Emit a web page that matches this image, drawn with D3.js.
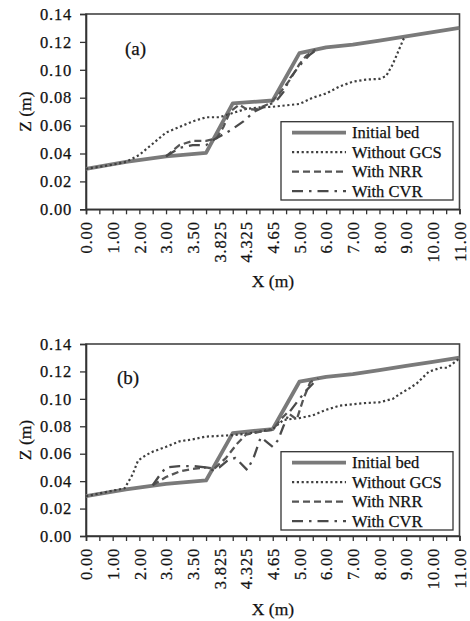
<!DOCTYPE html>
<html><head><meta charset="utf-8">
<script src="https://cdn.jsdelivr.net/npm/d3@7"></script>
<style>
body{margin:0;background:#fff}
svg{display:block}
text{font-family:"Liberation Serif","Times New Roman",serif;fill:#111;stroke:#111;stroke-width:0.25px}
</style>
</head><body>
<svg id="chart" width="470" height="621"></svg>
<script>
// Category axis labels (label i sits at position i; minor ticks at half positions)
const xTickLabels = ["0.00","1.00","2.00","3.00","3.50","3.825","4.325","4.65","5.00","6.00","7.00","8.00","9.00","10.00","11.00"];
const zTicks = [0,0.02,0.04,0.06,0.08,0.10,0.12,0.14];
const seriesNames = ["Initial bed","Without GCS","With NRR","With CVR"];

// Panel (a)
const aBedPos = [0,1.5,3,4.5,5.5,7,8,9,10,11,12,13,14];
const aBedZ   = [0.029,0.034,0.038,0.0405,0.076,0.078,0.112,0.116,0.118,0.121,0.124,0.127,0.130];
const aGcsPos = [0,1,1.5,2,2.5,3,3.5,4,4.5,5,5.5,6,6.5,7,7.5,8,8.5,9,9.5,10,10.5,11,11.25,11.5,11.7,11.9,12];
const aGcsZ   = [0.029,0.032,0.034,0.039,0.047,0.055,0.059,0.063,0.066,0.066,0.069,0.072,0.073,0.0735,0.0745,0.0755,0.080,0.083,0.088,0.0915,0.093,0.0935,0.0955,0.104,0.113,0.122,0.1238];
const aNrrPos = [3,3.5,4,4.5,4.9,5.15,5.4,5.75,6,6.35,6.9,7.25,7.65,8,8.25,8.6];
const aNrrZ   = [0.038,0.046,0.049,0.049,0.051,0.059,0.070,0.075,0.072,0.0715,0.076,0.083,0.093,0.104,0.110,0.1145];
const aCvrPos = [3,3.5,4,4.5,4.8,5.45,5.9,6.3,6.75,7.1,7.4,7.65,8,8.4,8.7];
const aCvrZ   = [0.038,0.044,0.046,0.046,0.050,0.057,0.063,0.070,0.074,0.077,0.084,0.094,0.103,0.111,0.115];

// Panel (b)
const bBedPos = [0,1.5,3,4.5,5.5,7,8,9,10,11,12,13,14];
const bBedZ   = [0.029,0.034,0.038,0.0405,0.075,0.078,0.1125,0.116,0.118,0.121,0.124,0.127,0.130];
const bGcsPos = [0,1,1.45,1.75,1.95,2.25,2.5,3,3.5,4,4.5,5,5.5,6,6.5,7,7.4,8,8.5,9,9.5,10,10.5,11,11.5,11.8,12.15,12.4,12.85,13.3,13.55,14];
const bGcsZ   = [0.029,0.033,0.0348,0.045,0.055,0.059,0.0615,0.065,0.069,0.0705,0.0725,0.073,0.0736,0.0745,0.076,0.078,0.0846,0.086,0.088,0.092,0.095,0.096,0.097,0.0975,0.100,0.104,0.108,0.1113,0.1198,0.1227,0.1227,0.1295];
const bNrrPos = [2.5,3,3.5,4,4.5,4.8,5.25,5.65,6,6.5,7,7.3,7.55,7.9,8.15,8.4,8.6];
const bNrrZ   = [0.037,0.043,0.047,0.049,0.050,0.049,0.057,0.067,0.074,0.076,0.0775,0.085,0.090,0.085,0.100,0.112,0.1145];
const bCvrPos = [2.5,2.75,3,3.5,4,4.5,4.75,5,5.3,5.6,6.05,6.3,6.55,7,7.2,7.4,7.65,8,8.25,8.5,8.7];
const bCvrZ   = [0.037,0.044,0.050,0.051,0.051,0.050,0.048,0.050,0.055,0.057,0.048,0.058,0.072,0.065,0.070,0.080,0.091,0.100,0.106,0.111,0.115];

const styles = [
  {color:"#7a7a7a", width:3.8, dash:null},
  {color:"#3f3f3f", width:2.2, dash:"2.2 2.6"},
  {color:"#555555", width:2.3, dash:"7 4"},
  {color:"#4a4a4a", width:2.3, dash:"11 6 2.5 6"}
];

const svg = d3.select("#chart");
const FONT = "Liberation Serif, Times New Roman, serif";

function drawPanel(p){
  const x = d3.scaleLinear().domain([0,14]).range([86,459.5]);
  const y = d3.scaleLinear().domain([0,0.14]).range([p.bottom,p.top]);
  const g = svg.append("g");

  // frame
  g.append("rect").attr("x",x(0)).attr("y",y(0.14)).attr("width",x(14)-x(0)).attr("height",y(0)-y(0.14))
    .attr("fill","none").attr("stroke","#444").attr("stroke-width",1.6);

  // y axis
  const ya = g.append("g").attr("transform",`translate(${x(0)},0)`)
    .call(d3.axisLeft(y).tickValues(zTicks).tickFormat(d3.format(".2f")).tickSize(6).tickPadding(8));
  ya.select(".domain").attr("stroke","#333").attr("stroke-width",1.6);
  ya.selectAll(".tick line").attr("stroke","#333").attr("stroke-width",1.3);
  ya.selectAll("text").attr("font-family",FONT).attr("font-size",16.5).attr("letter-spacing","0.8px");

  // x axis
  const xa = g.append("g").attr("transform",`translate(0,${y(0)})`)
    .call(d3.axisBottom(x).tickValues(d3.range(0,14.01,0.5)).tickSize(5)
      .tickFormat(d => Number.isInteger(d) ? xTickLabels[d] : ""));
  xa.select(".domain").attr("stroke","#333").attr("stroke-width",1.6);
  xa.selectAll(".tick line").attr("stroke","#333").attr("stroke-width",1.3);
  xa.selectAll("text").attr("font-family",FONT).attr("font-size",16.5).attr("letter-spacing","0.8px")
    .attr("transform","rotate(-90)").attr("text-anchor","end").attr("x",-12).attr("y",0).attr("dy","0.35em");

  // series
  const line = d3.line().x(d=>x(d[0])).y(d=>y(d[1]));
  p.series.forEach((s,i)=>{
    const pts = s.pos.map((v,j)=>[v,s.z[j]]);
    const path = g.append("path").datum(pts).attr("d",line).attr("fill","none")
      .attr("stroke",styles[i].color).attr("stroke-width",styles[i].width)
      .attr("stroke-linejoin","round");
    if(styles[i].dash) path.attr("stroke-dasharray",styles[i].dash);
  });

  // panel label
  g.append("text").attr("x",p.labelX).attr("y",p.labelY).attr("font-size",19).text(p.label);

  // axis titles
  g.append("text").attr("x",273).attr("y",p.xTitleY).attr("text-anchor","middle").attr("font-size",17.5).text("X (m)");
  g.append("text").attr("transform",`translate(31,${(p.top+p.bottom)/2}) rotate(-90)`)
    .attr("text-anchor","middle").attr("font-size",17.5).text("Z (m)");

  // legend
  const lg = g.append("g").attr("transform",`translate(281,${p.legendTop})`);
  lg.append("rect").attr("width",172).attr("height",78.3).attr("fill","#fff").attr("stroke","#333").attr("stroke-width",1.3);
  seriesNames.forEach((n,i)=>{
    const yy = 11 + i*19.5;
    const l = lg.append("line").attr("x1",11).attr("x2",65).attr("y1",yy).attr("y2",yy)
      .attr("stroke",styles[i].color).attr("stroke-width",styles[i].width);
    if(styles[i].dash) l.attr("stroke-dasharray",styles[i].dash);
    lg.append("text").attr("x",71).attr("y",yy+5.8).attr("font-size",16.5).text(n);
  });
}

drawPanel({top:14,bottom:209.3,label:"(a)",labelX:125,labelY:55,xTitleY:286.5,legendTop:121.7,
  series:[{pos:aBedPos,z:aBedZ},{pos:aGcsPos,z:aGcsZ},{pos:aNrrPos,z:aNrrZ},{pos:aCvrPos,z:aCvrZ}]});
drawPanel({top:344,bottom:536,label:"(b)",labelX:117,labelY:384,xTitleY:615,legendTop:451.7,
  series:[{pos:bBedPos,z:bBedZ},{pos:bGcsPos,z:bGcsZ},{pos:bNrrPos,z:bNrrZ},{pos:bCvrPos,z:bCvrZ}]});
</script>
</body></html>
